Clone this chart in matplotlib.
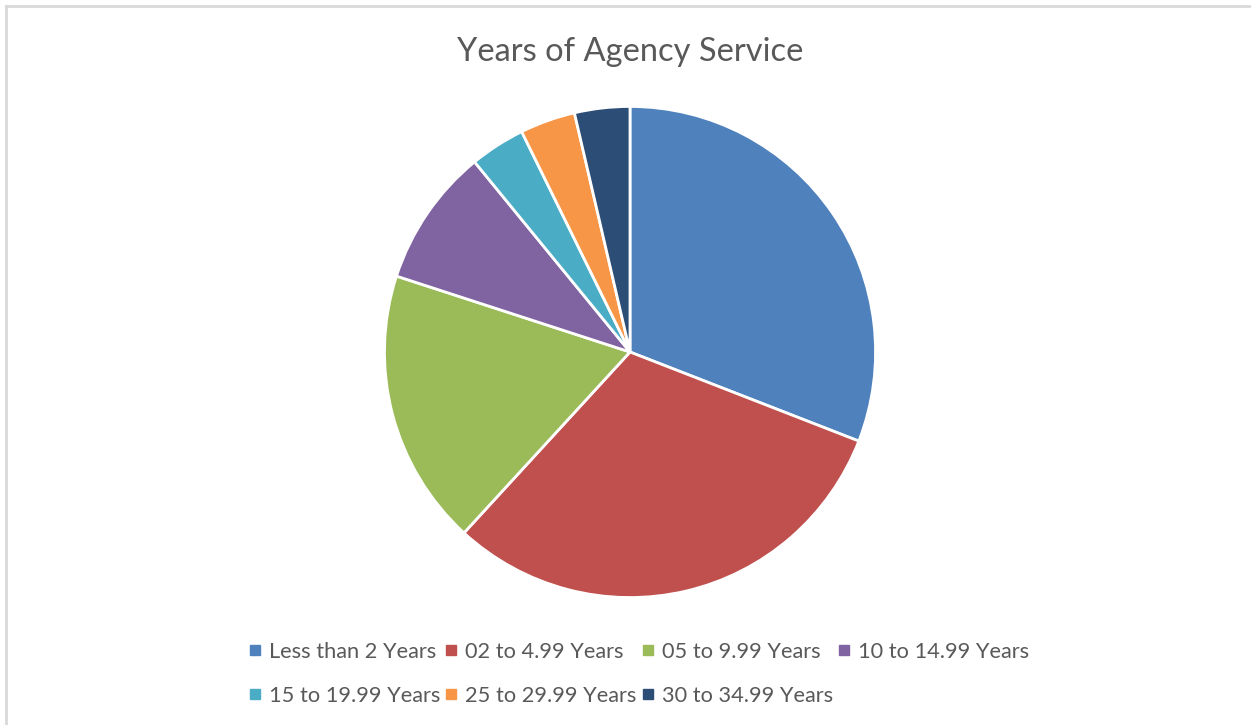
import matplotlib.pyplot as plt
from matplotlib.lines import Line2D

categories = ["Less than 2 Years", "02 to 4.99 Years", "05 to 9.99 Years", "10 to 14.99 Years",
              "15 to 19.99 Years", "25 to 29.99 Years", "30 to 34.99 Years"]
counts = [17, 17, 10, 5, 2, 2, 2]
colors = ["#4F81BD", "#C0504D", "#9BBB59", "#8064A2", "#4BACC6", "#F79646", "#2C4D75"]

plt.rcParams['font.family'] = ['Lato', 'DejaVu Sans']

W, H = 1251, 725
fig = plt.figure(figsize=(W / 100, H / 100), dpi=100)
fig.patch.set_facecolor("white")

# pie area in pixel terms: centre (630, 352), radius 248
cx, cy, r = 630, 352, 248
ax = fig.add_axes([(cx - r) / W, (H - cy - r) / H, 2 * r / W, 2 * r / H])
wedges, _ = ax.pie(counts, colors=colors, startangle=90, counterclock=False,
                   wedgeprops=dict(edgecolor="white", linewidth=2))
ax.set_xlim(-1.01, 1.01)
ax.set_ylim(-1.01, 1.01)
ax.set_aspect("equal")
ax.axis("off")

fig.text(630 / W, 1 - 52 / H, "Years of Agency Service", ha="center", va="center",
         fontsize=23.5, color="#595959")

# legend laid out row-wise: 4 on the first row, 3 on the second
order = [0, 4, 1, 5, 2, 6, 3]
handles = [Line2D([], [], marker="s", linestyle="none", markersize=6.5,
                  markerfacecolor=colors[i], markeredgecolor=colors[i]) for i in order]
labels = [categories[i] for i in order]
leg = fig.legend(handles, labels, ncol=4, loc="upper left",
                 bbox_to_anchor=(249 / W, 1 - 642 / H), frameon=False,
                 fontsize=15.7, labelcolor="#595959", handlelength=0.55,
                 handletextpad=0.35, columnspacing=0.25, labelspacing=1.1,
                 borderaxespad=0, borderpad=0)

# light grey frame along top and left edges
fig.add_artist(Line2D([6 / W, 1], [1 - 6 / H, 1 - 6 / H], transform=fig.transFigure,
                      color="#D9D9D9", linewidth=2))
fig.add_artist(Line2D([6 / W, 6 / W], [0, 1 - 6 / H], transform=fig.transFigure,
                      color="#D9D9D9", linewidth=2))

fig.savefig("out.png", dpi=100, facecolor="white")
